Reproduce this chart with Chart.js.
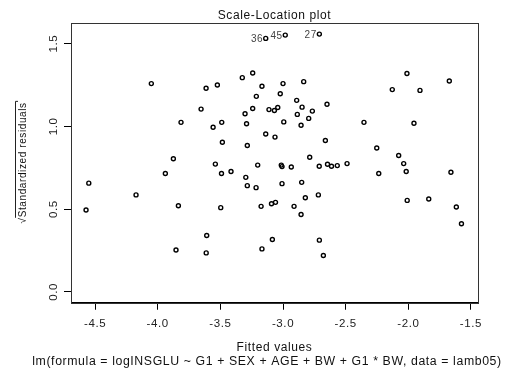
<!DOCTYPE html>
<html>
<head>
<meta charset="utf-8">
<script src="https://cdn.jsdelivr.net/npm/chart.js@4"></script>
<style>
  html, body { margin: 0; padding: 0; background: #fff; }
</style>
</head>
<body>
<canvas id="plot" width="514" height="369"></canvas>
<script>
const fittedValues = [
  -3.138, -2.982, -2.710, -4.051, -3.614, -3.524, -3.325, -3.242, -3.168, -3.213,
  -3.654, -3.242, -3.303, -3.112, -3.069, -3.042, -3.814, -3.489, -3.558, -3.291,
  -3.138, -3.064, -3.484, -3.285, -3.875, -3.540, -3.202, -3.000, -2.835, -2.011,
  -1.673, -2.128, -1.907, -3.022, -2.891, -2.649, -2.848, -2.766, -2.886, -2.795,
  -2.994, -2.354, -1.955, -2.856, -2.662, -2.252, -2.787, -2.077, -2.489, -2.037,
  -2.645, -2.613, -2.567, -3.014, -3.008, -2.934, -2.711, -2.236, -2.017, -1.660,
  -3.939, -3.491, -3.415, -3.297, -3.285, -3.215, -4.550, -4.173, -4.572, -3.835,
  -3.497, -3.175, -3.092, -3.060, -3.008, -2.851, -2.822, -2.718, -2.912, -2.856,
  -2.009, -1.837, -1.617, -1.576, -3.609, -3.085, -2.710, -3.854, -3.613, -3.168, -2.678,
];
const sqrtStdResiduals = [
  1.531, 1.551, 1.557, 1.258, 1.230, 1.250, 1.294, 1.322, 1.242, 1.181,
  1.104, 1.108, 1.076, 1.101, 1.096, 1.114, 1.024, 1.024, 0.995, 1.016,
  0.954, 0.935, 0.904, 0.884, 0.804, 0.772, 0.766, 1.258, 1.270, 1.319,
  1.274, 1.222, 1.217, 1.197, 1.157, 1.133, 1.116, 1.092, 1.072, 1.048,
  1.027, 1.024, 1.019, 1.007, 0.915, 0.869, 0.813, 0.824, 0.775, 0.775,
  0.771, 0.759, 0.763, 0.766, 0.757, 0.755, 0.759, 0.715, 0.727, 0.723,
  0.715, 0.715, 0.727, 0.692, 0.642, 0.630, 0.657, 0.586, 0.495, 0.521,
  0.509, 0.517, 0.533, 0.541, 0.654, 0.662, 0.569, 0.586, 0.517, 0.468,
  0.553, 0.561, 0.513, 0.412, 0.341, 0.317, 0.313, 0.253, 0.236, 0.260, 0.220,
];
// the three flagged observations (index into the arrays above)
const labelledIndices = [0, 1, 2];
const labelTexts = ["36", "45", "27"];

const xTicks = [-4.5, -4.0, -3.5, -3.0, -2.5, -2.0, -1.5];
const yTicks = [0.0, 0.5, 1.0, 1.5];

const fontFamily = "'Liberation Sans', Arial, sans-serif";
const yTitle = "\u221AStandardized residuals";
const yTitleSize = 10;
const subTitle = "lm(formula = logINSGLU ~ G1 + SEX + AGE + BW + G1 * BW, data = lamb05)";

// R's device text runs a little wider than Arial, so space the letters out
const spacingPlugin = {
  id: "spacing",
  beforeUpdate(chart) { chart.ctx.letterSpacing = "0.6px"; },
  beforeDraw(chart) { chart.ctx.letterSpacing = "0.6px"; },
};

// frame round the plot region, like R's box()
const boxPlugin = {
  id: "box",
  afterDraw(chart) {
    const a = chart.chartArea;
    const ctx = chart.ctx;
    ctx.save();
    ctx.strokeStyle = "#333";
    ctx.lineWidth = 1;
    ctx.strokeRect(Math.round(a.left) + 0.5, Math.round(a.top) + 0.5,
      Math.round(a.right - a.left), Math.round(a.bottom - a.top));
    ctx.restore();
  },
};

// point ids next to the largest residuals
const idPlugin = {
  id: "ids",
  afterDatasetsDraw(chart) {
    const ctx = chart.ctx;
    const pts = chart.getDatasetMeta(0).data;
    ctx.save();
    ctx.font = "10px " + fontFamily;
    ctx.fillStyle = "#444";
    ctx.textAlign = "right";
    ctx.textBaseline = "middle";
    labelledIndices.forEach((idx, i) => {
      ctx.fillText(labelTexts[i], pts[idx].x - 2.5, pts[idx].y + 1);
    });
    ctx.restore();
  },
};

// bar over the y title so the radical covers the whole text
const radicalPlugin = {
  id: "radical",
  afterDraw(chart) {
    const s = chart.scales.y;
    const ctx = chart.ctx;
    ctx.save();
    ctx.font = yTitleSize + "px " + fontFamily;
    const w = ctx.measureText(yTitle).width;
    const wr = ctx.measureText("\u221A").width;
    const cy = (s.top + s.bottom) / 2;
    const x = 15.5;
    const yStart = cy + w / 2 - wr + 0.5;
    const yEnd = cy - w / 2 - 1;
    ctx.strokeStyle = "#222";
    ctx.lineWidth = 1;
    ctx.beginPath();
    ctx.moveTo(x, yStart);
    ctx.lineTo(x, yEnd);
    ctx.lineTo(x + 2.5, yEnd);
    ctx.stroke();
    ctx.restore();
  },
};

const points = fittedValues.map((x, i) => ({ x: x, y: sqrtStdResiduals[i] }));

new Chart(document.getElementById("plot"), {
  type: "scatter",
  data: {
    datasets: [{
      data: points,
      pointRadius: 2,
      pointHoverRadius: 2,
      borderWidth: 1.4,
      borderColor: "#000",
      backgroundColor: "rgba(0,0,0,0)",
    }],
  },
  options: {
    responsive: false,
    animation: false,
    devicePixelRatio: 1,
    events: [],
    layout: { padding: { left: 20, right: 0, top: 0, bottom: 0 } },
    plugins: {
      legend: { display: false },
      tooltip: { enabled: false },
      title: {
        display: true,
        text: "Scale-Location plot",
        fullSize: false,
        color: "#111",
        font: { family: fontFamily, size: 12, weight: "normal", lineHeight: 1.2 },
        padding: { top: 8, bottom: 0.6 },
      },
      subtitle: {
        display: true,
        position: "bottom",
        fullSize: true,
        text: subTitle,
        color: "#111",
        font: { family: fontFamily, size: 12.3, weight: "normal", lineHeight: 1.2 },
        padding: { top: 1, bottom: 0.5 },
      },
    },
    scales: {
      x: {
        type: "linear",
        min: -4.692,
        max: -1.444,
        afterBuildTicks: (s) => { s.ticks = xTicks.map((v) => ({ value: v })); },
        afterFit: (s) => { s.height = 50; },
        ticks: {
          autoSkip: false,
          maxRotation: 0,
          padding: 7,
          color: "#222",
          font: { family: fontFamily, size: 11.5 },
          callback: (v) => v.toFixed(1),
        },
        grid: { drawOnChartArea: false, drawTicks: true, tickLength: 7, color: "#000" },
        border: { display: true, color: "#000" },
        title: {
          display: true,
          text: "Fitted values",
          color: "#111",
          font: { family: fontFamily, size: 12, lineHeight: 1 },
          padding: { top: 0, bottom: -1 },
        },
      },
      y: {
        type: "linear",
        min: -0.065,
        max: 1.624,
        afterBuildTicks: (s) => { s.ticks = yTicks.map((v) => ({ value: v })); },
        afterFit: (s) => { s.width = 51; },
        ticks: {
          autoSkip: false,
          minRotation: 90,
          maxRotation: 90,
          crossAlign: "center",
          padding: 1.5,
          color: "#222",
          font: { family: fontFamily, size: 11.5 },
          callback: (v) => v.toFixed(1),
        },
        grid: { drawOnChartArea: false, drawTicks: true, tickLength: 7, color: "#000" },
        border: { display: true, color: "#000" },
        title: {
          display: true,
          text: yTitle,
          color: "#111",
          font: { family: fontFamily, size: yTitleSize },
          padding: { top: -2.5, bottom: 0 },
        },
      },
      // empty right margin, so the full-width subtitle centres like R's
      y2: {
        type: "linear",
        position: "right",
        min: 0,
        max: 1,
        afterFit: (s) => { s.width = 36; },
        ticks: { display: false },
        grid: { display: false },
        border: { display: false },
      },
    },
  },
  plugins: [spacingPlugin, boxPlugin, idPlugin, radicalPlugin],
});
</script>
</body>
</html>
